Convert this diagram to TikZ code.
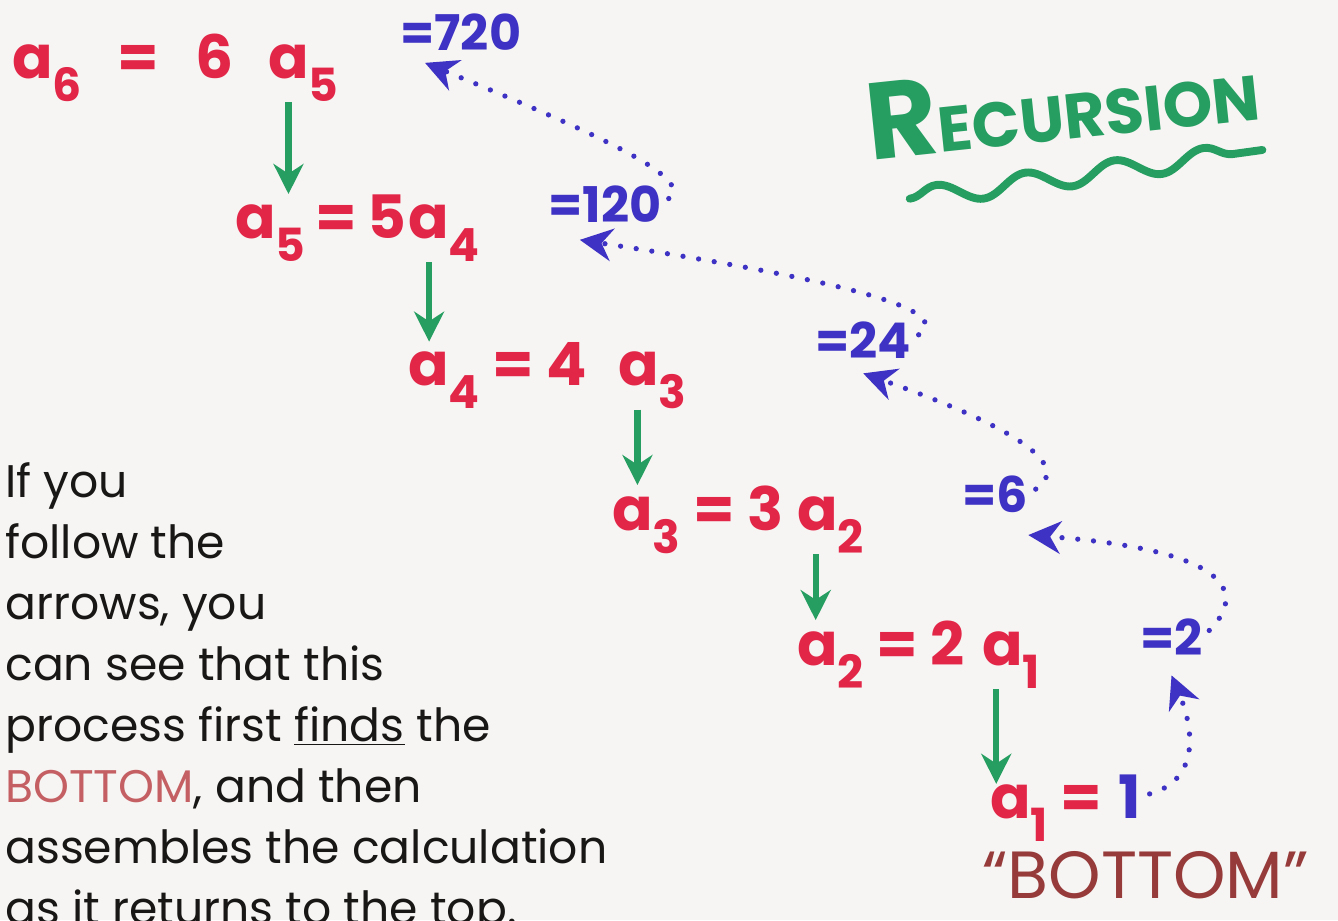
\documentclass[tikz,border=0pt]{standalone}
\usepackage{fontspec}
\setmainfont{Poppins}
\usetikzlibrary{arrows.meta, positioning, decorations.pathmorphing}
\definecolor{paper}{RGB}{247,245,243}
\definecolor{inkred}{RGB}{226,38,72}
\definecolor{inkblue}{RGB}{62,50,196}
\definecolor{inkgreen}{RGB}{38,158,98}
\definecolor{inkbrown}{RGB}{150,58,58}
\definecolor{inkpink}{RGB}{196,96,100}
\definecolor{inkblack}{RGB}{25,22,22}
\newcommand{\asub}[1]{a\raisebox{-0.4em}{\fontsize{26}{26}\selectfont #1}}

\begin{document}
\begin{tikzpicture}[x=0.02cm, y=-0.02cm,
    eq/.style={inkred, font=\fontsize{34}{40}\selectfont\bfseries, inner sep=0pt, anchor=base west},
    val/.style={inkblue, font=\fontsize{28}{32}\selectfont\bfseries, inner sep=0pt, anchor=base west},
    note/.style={inkblack, font=\fontsize{26}{34.7}\selectfont, align=left, inner sep=0pt, anchor=north west},
    title/.style={inkgreen, font=\fontsize{62}{66}\selectfont\bfseries, inner sep=0pt},
    down/.style={-{Stealth[length=6mm, width=6mm]}, inkgreen, line width=3.5pt},
    back/.style={-{Stealth[length=6.5mm, width=6.5mm]}, inkblue, line width=3pt, line cap=round, dash pattern=on 0pt off 9pt, shorten <=5pt},
    wavy/.style={inkgreen, line width=4.5pt, line cap=round, decorate, decoration={snake, amplitude=0.2cm, segment length=1.8cm}}]
    \useasboundingbox (0,0) rectangle (1338,920);
    \fill[paper] (0,0) rectangle (1338,920);
    \node[eq] (l6) at (12,78) {\asub{6}\hspace{0.6em}=\hspace{0.6em}6};
    \node[eq] (r6) at (268,78) {\asub{5}};
    \node[eq] (l5) at (235,238) {\asub{5}\,=\,5};
    \node[eq] (r5) at (408,238) {\asub{4}};
    \node[eq] (l4) at (408,385) {\asub{4} = 4};
    \node[eq] (r4) at (618,385) {\asub{3}};
    \node[eq] (l3) at (612,530) {\asub{3} = 3};
    \node[eq] (r3) at (797,530) {\asub{2}};
    \node[eq] (l2) at (797,665) {\asub{2} = 2};
    \node[eq] (r2) at (982,665) {\asub{1}};
    \node[eq] (l1) at (990,818) {\asub{1} =};
    \node[eq, inkblue] (one) at (1118,818) {1};
    \node[val] (v720) at (400,50) {=720};
    \node[val] (v120) at (548,222) {=120};
    \node[val] (v24) at (815,358) {=24};
    \node[val] (v6) at (962,512) {=6};
    \node[val] (v2) at (1140,655) {=2};
    \node[eq, inkbrown, font=\fontsize{38}{42}\selectfont] (bottom) at (982,898) {``BOTTOM''};
    \node[title, rotate=6] (title) at (1062,102) {R\fontsize{36}{40}\selectfont ECURSION};
    \draw[wavy] ([xshift=0.8cm, yshift=-0.75cm]title.south west) -- ([yshift=-0.6cm]title.south east);
    \node[note] (note) at (5,462) {If you\\follow the\\arrows, you\\can see that this\\process first \underline{finds} the\\{\color{inkpink}BOTTOM}, and then\\assembles the calculation\\as it returns to the top.};
    \draw[down] ([xshift=-0.3cm]r6.south) -- ([xshift=-0.3cm]r6.south |- l5.north);
    \draw[down] ([xshift=-0.3cm]r5.south) -- ([xshift=-0.3cm]r5.south |- l4.north);
    \draw[down] ([xshift=-0.3cm]r4.south) -- ([xshift=-0.3cm]r4.south |- l3.north);
    \draw[down] ([xshift=-0.3cm]r3.south) -- ([xshift=-0.3cm]r3.south |- l2.north);
    \draw[down] ([xshift=-0.3cm]r2.south) -- ([xshift=-0.3cm]r2.south |- l1.north);
    \draw[back] (one.east) .. controls +(55,-15) and +(25,60) .. ([yshift=-0.4cm]v2.south);
    \draw[back] (v2.east) .. controls +(45,-45) and +(200,15) .. ([yshift=-0.45cm]v6.south east);
    \draw[back] (v6.east) .. controls +(40,-25) and +(170,60) .. ([yshift=-0.3cm]v24.south);
    \draw[back] (v24.east) .. controls +(45,-30) and +(260,40) .. ([xshift=-0.5cm, yshift=-0.35cm]v120.south);
    \draw[back] (v120.east) .. controls +(35,-25) and +(170,70) .. ([xshift=0.5cm, yshift=-0.25cm]v720.south west);
\end{tikzpicture}
\end{document}
